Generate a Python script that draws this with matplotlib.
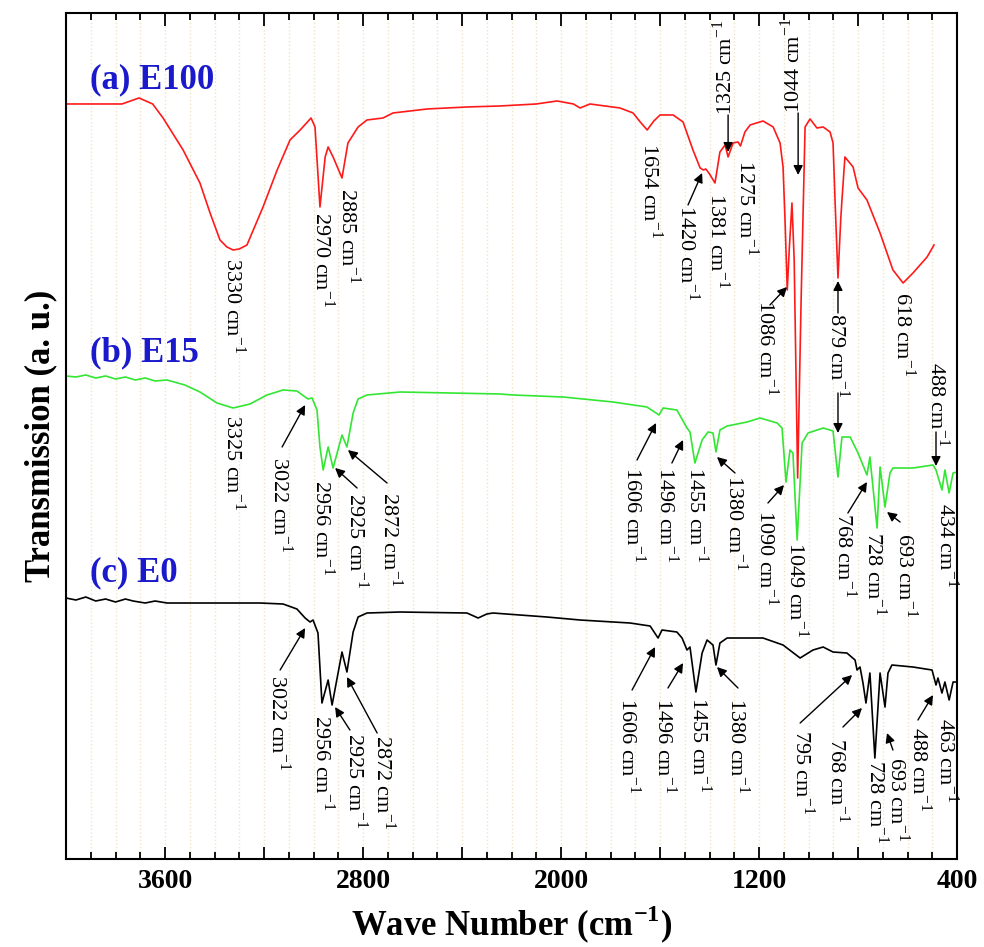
import numpy as np
import matplotlib
matplotlib.use("Agg")
import matplotlib.pyplot as plt
from matplotlib.ticker import MultipleLocator, FuncFormatter

# FTIR spectra, values in arbitrary transmission units
wn_a = [4000, 3774, 3705, 3650, 3608, 3527, 3459, 3418, 3378, 3350, 3325, 3300, 3269, 3204, 3147,
        3095, 3054, 3010, 2994, 2974, 2953, 2941, 2921, 2885, 2861, 2820, 2784, 2719, 2679, 2541,
        2380, 2246, 2100, 2016, 1950, 1923, 1883, 1762, 1709, 1680, 1652, 1625, 1600, 1547, 1507,
        1467, 1438, 1425, 1415, 1400, 1378, 1358, 1337, 1325, 1305, 1285, 1275, 1257, 1236, 1184,
        1143, 1115, 1103, 1095, 1086, 1078, 1067, 1058, 1044, 1030, 1014, 994, 966, 941, 913, 901,
        893, 881, 870, 865, 853, 820, 800, 764, 711, 659, 618, 578, 521, 493]
t_a = [755, 755, 761, 755, 741, 709, 676, 646, 619, 612, 609, 610, 614, 652, 689,
       719, 729, 741, 732, 652, 702, 712, 702, 681, 716, 732, 739, 741, 746, 750,
       752, 753, 755, 758, 755, 751, 755, 751, 746, 737, 729, 738, 744, 744, 737,
       709, 691, 689, 690, 685, 676, 707, 714, 702, 716, 717, 713, 727, 734, 738,
       732, 716, 692, 639, 569, 609, 656, 599, 381, 559, 732, 740, 731, 732, 727, 716,
       659, 581, 639, 659, 702, 692, 671, 659, 626, 589, 576, 586, 602, 614]

wn_b = [4000, 3960, 3920, 3880, 3840, 3800, 3760, 3720, 3680, 3640, 3592, 3520, 3459, 3390, 3325,
        3257, 3188, 3123, 3067, 3034, 3022, 3006, 2986, 2974, 2961, 2941, 2921, 2885, 2865,
        2840, 2820, 2784, 2650, 2246, 2194, 1992, 1790, 1653, 1604, 1588, 1532, 1491, 1479,
        1459, 1430, 1406, 1386, 1374, 1358, 1329, 1248, 1196, 1127, 1107, 1091, 1075, 1063,
        1046, 1026, 1002, 941, 901, 881, 865, 832, 800, 764, 752, 723, 711, 691, 671, 659,
        578, 497, 485, 461, 449, 432, 416, 400]
t_b = [483, 482, 484, 481, 483, 480, 482, 479, 481, 478, 479, 474, 467, 456, 451,
       455, 464, 469, 468, 462, 460, 461, 449, 412, 389, 412, 391, 424, 412,
       446, 460, 464, 467, 465, 464, 462, 457, 452, 444, 451, 449, 431, 427,
       396, 419, 427, 426, 407, 429, 433, 437, 441, 436, 431, 377, 409, 406,
       319, 416, 426, 431, 428, 382, 422, 422, 406, 384, 402, 331, 392, 352, 386, 391,
       391, 394, 389, 369, 389, 366, 386, 387]

wn_c = [4000, 3960, 3920, 3880, 3840, 3800, 3760, 3729, 3680, 3640, 3592, 3216, 3123, 3067,
        3034, 3014, 3002, 2982, 2966, 2941, 2925, 2885, 2865, 2840, 2820, 2784, 2650, 2380,
        2335, 2300, 2275, 2057, 1923, 1721, 1640, 1608, 1592, 1532, 1511, 1491, 1479, 1455,
        1430, 1410, 1386, 1374, 1358, 1329, 1184, 1103, 1034, 982, 941, 901, 845, 812, 804,
        792, 780, 768, 752, 732, 711, 691, 679, 663, 578, 501, 485, 477, 461, 449, 432, 416, 400]
t_c = [261, 259, 262, 258, 260, 257, 260, 258, 256, 258, 256, 256, 255, 250,
       241, 237, 239, 226, 156, 179, 154, 207, 187, 227, 242, 246, 247, 246,
       241, 245, 246, 242, 239, 236, 233, 221, 229, 227, 221, 209, 212, 167,
       206, 219, 214, 194, 216, 221, 221, 214, 201, 209, 212, 207, 206, 199, 189,
       192, 176, 156, 186, 101, 186, 152, 186, 194, 192, 189, 174, 181, 166, 177, 159, 177, 177]

names = ["(a) E100", "(b) E15", "(c) E0"]
colors = ["#ff1a1a", "#33e633", "black"]

# peak labels: text, text position (wn, t), rotation, arrow start, arrow end
peaks = [
    ("3330", 3325, 601, 270, None, None),
    ("2970", 2962, 647, 270, None, None),
    ("2885", 2857, 671, 270, None, None),
    ("1654", 1640, 716, 270, None, None),
    ("1420", 1491, 654, 270, (1487, 654), (1430, 686)),
    ("1381", 1366, 666, 270, None, None),
    ("1325", 1338, 744, 90, (1325, 744), (1325, 707)),
    ("1275", 1249, 699, 270, None, None),
    ("1044", 1063, 746, 90, (1042, 746), (1042, 684)),
    ("1086", 1168, 559, 270, (1156, 554), (1087, 572)),
    ("879", 881, 546, 270, (881, 546), (881, 578)),
    ("618", 618, 567, 270, None, None),
    ("3325", 3325, 444, 270, None, None),
    ("3022", 3135, 402, 270, (3127, 412), (3034, 454)),
    ("2956", 2962, 379, 270, None, None),
    ("2925", 2828, 366, 270, (2824, 371), (2913, 391)),
    ("2872", 2691, 367, 270, (2703, 376), (2861, 409)),
    ("1606", 1709, 392, 270, (1693, 399), (1616, 436)),
    ("1496", 1572, 392, 270, (1552, 396), (1507, 419)),
    ("1455", 1451, 392, 270, None, None),
    ("1380", 1297, 384, 270, (1297, 386), (1370, 402)),
    ("1090", 1168, 349, 270, (1164, 356), (1099, 374)),
    ("1049", 1047, 317, 270, None, None),
    ("768", 853, 346, 270, (841, 346), (764, 377)),
    ("728", 732, 327, 270, None, None),
    ("693", 610, 326, 270, (630, 337), (683, 347)),
    ("488", 477, 497, 270, (485, 427), (485, 393)),
    ("434", 441, 356, 270, None, None),
    ("3022", 3143, 184, 270, (3135, 189), (3034, 231)),
    ("2956", 2962, 144, 270, None, None),
    ("2925", 2832, 126, 270, (2853, 129), (2913, 152)),
    ("2872", 2719, 124, 270, (2743, 126), (2865, 182)),
    ("1606", 1729, 161, 270, (1713, 169), (1620, 212)),
    ("1496", 1580, 161, 270, (1568, 171), (1507, 196)),
    ("1455", 1439, 162, 270, None, None),
    ("1380", 1289, 161, 270, (1285, 171), (1370, 192)),
    ("795", 1026, 129, 270, (1034, 136), (824, 184)),
    ("768", 881, 121, 270, (861, 132), (784, 151)),
    ("728", 727, 99, 270, None, None),
    ("693", 642, 102, 270, (659, 109), (683, 126)),
    ("488", 553, 132, 270, (558, 139), (497, 164)),
    ("463", 441, 141, 270, None, None),
]

plt.rcParams['font.family'] = ['Liberation Serif', 'DejaVu Serif']
plt.rcParams['mathtext.fontset'] = 'custom'
plt.rcParams['mathtext.rm'] = 'Liberation Serif'
plt.rcParams['mathtext.bf'] = 'Liberation Serif:bold'

fig = plt.figure(figsize=(9.84, 9.47), dpi=100)
ax = fig.add_axes([0.0671, 0.0929, 0.9055, 0.8934])

for wn, t, c in zip([wn_a, wn_b, wn_c], [t_a, t_b, t_c], colors):
    ax.plot(wn, t, color=c, lw=1.2)

# sample names
for name, ty in zip(names, [779, 506, 286]):
    ax.text(3903, ty, name, color="#1a1acc", fontsize=25, fontweight="bold",
            ha="left", va="center")

for lab, tx, ty, rot, a0, a1 in peaks:
    s = lab + r" cm$^{-1}$"
    va = "top" if rot == 270 else "bottom"
    ax.text(tx, ty, s, rotation=rot, ha="center", va=va, fontsize=16)
    if a0 is not None:
        ax.annotate("", xy=a1, xytext=a0,
                    arrowprops=dict(arrowstyle="-|>", color="k", lw=1,
                                    mutation_scale=14, shrinkA=0, shrinkB=0))

# extra arrow for 879 on the E15 curve
ax.annotate("", xy=(881, 426), xytext=(881, 466),
            arrowprops=dict(arrowstyle="-|>", color="k", lw=1,
                            mutation_scale=14, shrinkA=0, shrinkB=0))

ax.set_xlim(4000, 400)
ax.set_ylim(0, 846)
ax.set_yticks([])
ax.xaxis.set_major_locator(MultipleLocator(400))
ax.xaxis.set_minor_locator(MultipleLocator(100))
ax.xaxis.set_major_formatter(FuncFormatter(lambda v, p: "%d" % v if int(round(v)) % 800 == 400 else ""))
ax.tick_params(axis="x", which="both", direction="in", top=True, labelsize=20, pad=7)
ax.tick_params(axis="x", which="major", length=9, width=1.3)
ax.tick_params(axis="x", which="minor", length=5, width=1.3)
for lab in ax.get_xticklabels():
    lab.set_fontweight("bold")
ax.grid(True, axis="x", which="both", color="#f0e4c4", linestyle=":", lw=1)
for sp in ax.spines.values():
    sp.set_linewidth(1.5)

ax.set_xlabel(r"Wave Number (cm$^{\mathbf{-1}}$)", fontsize=25, fontweight="bold", labelpad=7)
ax.set_ylabel("Transmission (a. u.)", fontsize=25, fontweight="bold", labelpad=6)

fig.savefig("out.png", dpi=100)
